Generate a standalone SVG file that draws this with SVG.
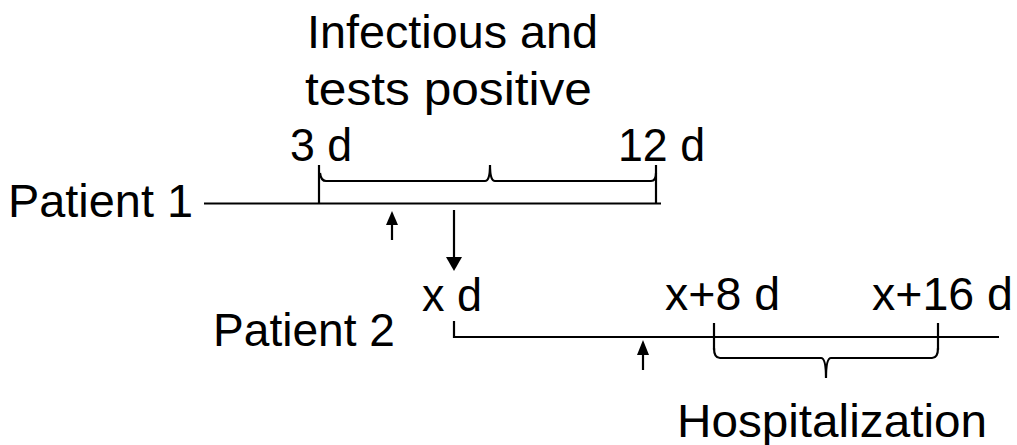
<svg xmlns="http://www.w3.org/2000/svg" width="1017" height="445" viewBox="0 0 1017 445">
<style>
.t{font-family:"Liberation Sans",Arial,sans-serif;font-size:46px;fill:#000}
.ln{stroke:#000;stroke-width:2.2;fill:none}
.ah{fill:#000}
</style>
<rect width="1017" height="445" fill="#fff"/>
<g id="label-infectious">
<text class="t" x="307" y="48" textLength="291" lengthAdjust="spacingAndGlyphs">Infectious and</text>
<text class="t" x="305" y="105" textLength="287" lengthAdjust="spacingAndGlyphs">tests positive</text>
</g>
<g id="patient1">
<text class="t" x="8" y="217" textLength="185" lengthAdjust="spacingAndGlyphs">Patient 1</text>
<text class="t" x="290" y="161" textLength="62" lengthAdjust="spacingAndGlyphs">3 d</text>
<text class="t" x="618" y="161" textLength="87" lengthAdjust="spacingAndGlyphs">12 d</text>
</g>
<g id="patient2">
<text class="t" x="213" y="346" textLength="182" lengthAdjust="spacingAndGlyphs">Patient 2</text>
<text class="t" x="422" y="311" textLength="60" lengthAdjust="spacingAndGlyphs">x d</text>
<text class="t" x="665" y="310" textLength="115" lengthAdjust="spacingAndGlyphs">x+8 d</text>
<text class="t" x="872" y="310" textLength="141" lengthAdjust="spacingAndGlyphs">x+16 d</text>
</g>
<g id="label-hospitalization">
<text class="t" x="677" y="437" textLength="310" lengthAdjust="spacingAndGlyphs">Hospitalization</text>
</g>
<g id="connectors">
<path class="ln" d="M204 203.5 L661 203.5"/>
<path class="ln" d="M319 165 L319 203"/>
<path class="ln" d="M656 165 L656 203"/>
<path class="ln" d="M320 173 Q321 181 326 181 L485 181 Q490 181 490 165 Q490 181 495 181 L651 181 Q656 181 656 173"/>
<path class="ln" d="M392 240 L392 223"/>
<polygon class="ah" points="386,225 398,225 392,211"/>
<path class="ln" d="M454 210 L454 258"/>
<polygon class="ah" points="446,257 462,257 454,271"/>
<path class="ln" d="M454 321 L454 337 L999 337"/>
<path class="ln" d="M714 323 L714 350"/>
<path class="ln" d="M938 323 L938 350"/>
<path class="ln" d="M714 348 Q714 358 720 358 L821 358 Q826 358 826 378 Q826 358 831 358 L932 358 Q938 358 938 348"/>
<path class="ln" d="M643 370 L643 353"/>
<polygon class="ah" points="637,355 649,355 643,340"/>
</g>
</svg>
